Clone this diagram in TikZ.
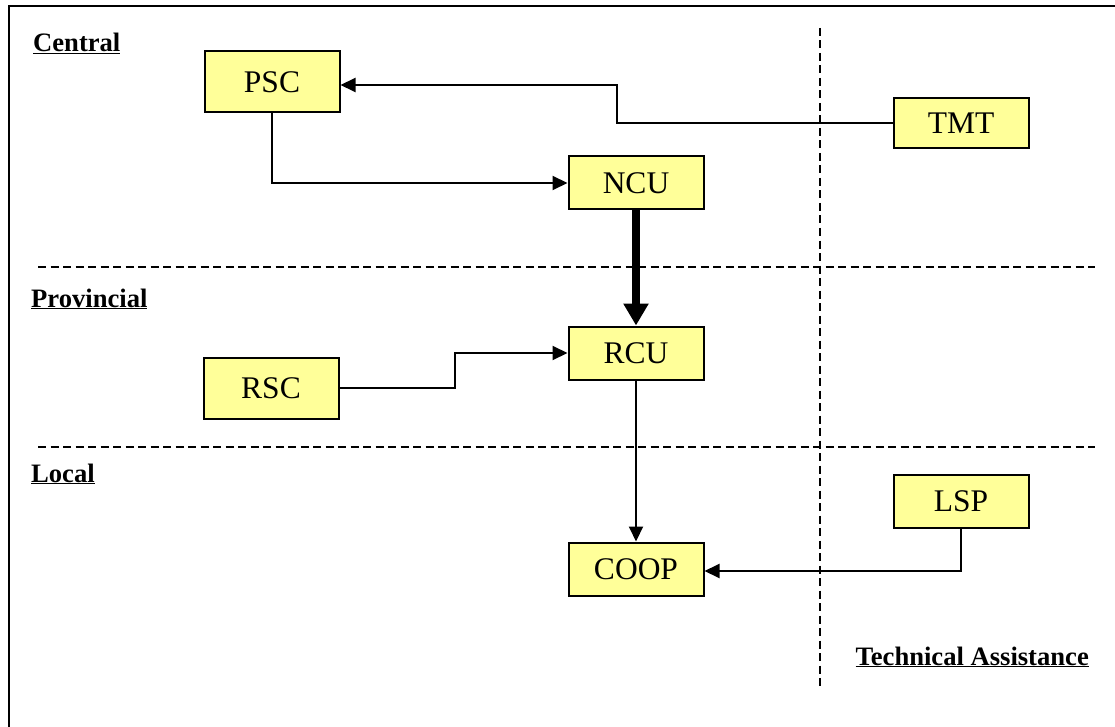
\documentclass[tikz,border=0pt]{standalone}
\usepackage{fontspec}
\setmainfont{Liberation Serif}
\usepackage{xcolor}
\usetikzlibrary{arrows.meta}
\definecolor{paleyellow}{HTML}{FFFF99}
\tikzstyle{unit} = [rectangle, minimum width=135pt, minimum height=53pt, text centered, draw=black, line width=2pt, fill=paleyellow, font=\fontsize{31.5}{36}\selectfont]
\tikzstyle{level} = [anchor=base west, inner sep=0pt, font=\fontsize{26.6}{30}\selectfont\bfseries]
\tikzstyle{arrow} = [line width=2pt, -{Triangle[length=15pt, width=14pt]}]
\tikzstyle{bigarrow} = [line width=8pt, -{Triangle[length=22pt, width=24pt]}]
\tikzstyle{divider} = [line width=2pt, dash pattern=on 8pt off 4.5pt]

\begin{document}
\begin{tikzpicture}[x=1pt, y=-1pt, node distance=170pt]
        \useasboundingbox (0,0) rectangle (1115,727);
        % frame and level dividers
        \draw [line width=2.5pt] (1115,6) -- (9,6) -- (9,727);
        \draw [divider] (38,267) -- (1095,267);
        \draw [divider] (38,447) -- (1095,447);
        \draw [divider] (820,28) -- (820,686);

        \node (central) [level] at (33,52) {\underline{Central}};
        \node (provincial) [level] at (31,307) {\underline{Provincial}};
        \node (local) [level] at (31,482) {\underline{Local}};
        \node (techassist) [level, anchor=base east] at (1089,665) {\underline{Technical Assistance}};

        \node (psc) [unit, minimum height=61pt] at (272,82) {PSC};
        \node (tmt) [unit, minimum height=50pt] at (961,123) {TMT};
        \node (ncu) [unit] at (636,183) {NCU};
        \node (rcu) [unit, below of=ncu] {RCU};
        \node (rsc) [unit, minimum height=61pt] at (271,388) {RSC};
        \node (lsp) [unit] at (961,501) {LSP};
        \node (coop) [unit, below of=rcu, node distance=216pt] {COOP};

        \draw [arrow] (tmt.west) -| (617,85) -- (psc.east |- 0,85);
        \draw [arrow] (psc.south) |- (ncu.west);
        \draw [bigarrow] (ncu) -- (rcu);
        \draw [arrow] (rsc.east) -| (455,353) -- (rcu.west);
        \draw [arrow] (rcu) -- (coop);
        \draw [arrow] (lsp.south) |- (coop.east |- 0,571);
\end{tikzpicture}
\end{document}
